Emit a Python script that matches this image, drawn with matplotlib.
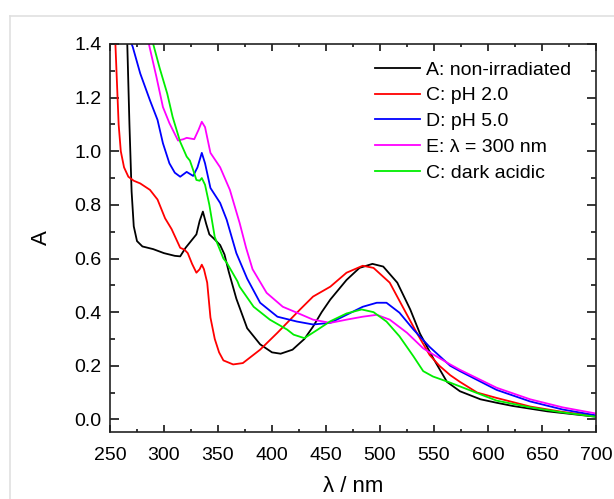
import matplotlib
matplotlib.use("Agg")
import matplotlib.pyplot as plt
from matplotlib.lines import Line2D
from matplotlib.ticker import MultipleLocator, FormatStrFormatter

plt.rcParams['font.family'] = ['Liberation Sans', 'DejaVu Sans']

# A: non-irradiated
wl_a = [262, 266, 268, 270, 272, 275, 280, 290, 300, 310, 315, 320, 326, 330, 333, 336,
        339, 342, 346, 352, 356, 360, 367, 377, 389, 400, 408, 419, 430, 438, 446, 454,
        469, 481, 493, 503, 516, 528, 537, 549, 562, 574, 593, 608, 623, 655, 700]
abs_a = [1.5, 1.4, 1.1, 0.85, 0.72, 0.665, 0.645, 0.635, 0.62, 0.61, 0.608, 0.64, 0.67, 0.69, 0.74, 0.775,
         0.73, 0.69, 0.675, 0.65, 0.615, 0.55, 0.45, 0.34, 0.28, 0.25, 0.245, 0.26, 0.3, 0.346, 0.4, 0.447,
         0.52, 0.565, 0.58, 0.57, 0.51, 0.41, 0.32, 0.23, 0.14, 0.105, 0.075, 0.062, 0.05, 0.03, 0.01]

# C: pH 2.0
wl_c = [254, 256, 258, 260, 263, 267, 272, 278, 287, 294, 301, 307, 315, 319, 322, 326,
        330, 333, 335, 337, 340, 343, 347, 351, 355, 364, 373, 389, 405, 426, 438, 454,
        469, 484, 494, 509, 521, 534, 546, 555, 565, 574, 590, 608, 639, 669, 700]
abs_c = [1.5, 1.3, 1.1, 1.0, 0.94, 0.905, 0.89, 0.88, 0.856, 0.82, 0.75, 0.71, 0.64, 0.633, 0.62, 0.58,
         0.547, 0.56, 0.577, 0.56, 0.51, 0.38, 0.3, 0.25, 0.22, 0.205, 0.21, 0.26, 0.323, 0.41, 0.458, 0.495,
         0.547, 0.573, 0.565, 0.51, 0.42, 0.323, 0.24, 0.2, 0.165, 0.14, 0.1, 0.08, 0.048, 0.028, 0.012]

# D: pH 5.0
wl_d = [265, 271, 278, 287, 294, 299, 305, 310, 315, 321, 327, 331, 335, 338, 343, 352,
        358, 367, 377, 389, 405, 423, 438, 454, 469, 484, 497, 506, 518, 531, 546, 565,
        574, 608, 639, 669, 700]
abs_d = [1.45, 1.39, 1.29, 1.19, 1.117, 1.03, 0.955, 0.92, 0.905, 0.923, 0.908, 0.94, 0.994, 0.955, 0.863, 0.807,
         0.745, 0.62, 0.525, 0.435, 0.383, 0.365, 0.354, 0.36, 0.39, 0.42, 0.435, 0.435, 0.398, 0.335, 0.27, 0.2,
         0.18, 0.11, 0.067, 0.037, 0.015]

# E: lambda = 300 nm
wl_e = [284, 286, 293, 299, 305, 313, 318, 321, 328, 332, 335, 338, 343, 352, 361, 370,
        376, 382, 395, 410, 423, 438, 454, 469, 484, 497, 509, 525, 540, 546, 565, 574,
        608, 639, 669, 700]
abs_e = [1.45, 1.4, 1.277, 1.165, 1.105, 1.04, 1.045, 1.05, 1.045, 1.08, 1.11, 1.09, 0.994, 0.94, 0.856, 0.733,
         0.64, 0.56, 0.472, 0.42, 0.398, 0.372, 0.36, 0.372, 0.383, 0.39, 0.372, 0.323, 0.265, 0.25, 0.205, 0.185,
         0.118, 0.075, 0.045, 0.022]

# C: dark acidic
wl_g = [289, 290, 296, 303, 308, 315, 321, 324, 327, 330, 333, 335, 338, 342, 347, 355,
        358, 368, 370, 383, 398, 414, 420, 430, 442, 454, 469, 483, 494, 506, 518, 531,
        540, 549, 556, 565, 574, 608, 639, 669, 700]
abs_g = [1.45, 1.4, 1.31, 1.215, 1.128, 1.035, 0.98, 0.965, 0.93, 0.893, 0.89, 0.9, 0.875, 0.8, 0.68, 0.6,
         0.585, 0.515, 0.495, 0.42, 0.372, 0.335, 0.316, 0.303, 0.334, 0.366, 0.395, 0.41, 0.4, 0.365, 0.31, 0.235,
         0.18, 0.16, 0.15, 0.137, 0.123, 0.07, 0.045, 0.026, 0.01]

series = [
    (wl_a, abs_a, 'A: non-irradiated', 'black'),
    (wl_c, abs_c, 'C: pH 2.0', '#ff0000'),
    (wl_d, abs_d, 'D: pH 5.0', '#0000ff'),
    (wl_e, abs_e, 'E: λ = 300 nm', '#ff00ff'),
    (wl_g, abs_g, 'C: dark acidic', '#00ee00'),
]

fig = plt.figure(figsize=(6.14, 4.99), dpi=100)
ax = fig.add_axes([110/614, 1 - 432/499, 486/614, 388/499])

for x, y, name, col in series:
    ax.plot(x, y, color=col, lw=1.3, label=name)

ax.set_xlim(250, 700)
ax.set_ylim(-0.047, 1.4)
ax.xaxis.set_major_locator(MultipleLocator(50))
ax.xaxis.set_minor_locator(MultipleLocator(25))
ax.yaxis.set_major_locator(MultipleLocator(0.2))
ax.yaxis.set_minor_locator(MultipleLocator(0.1))
ax.yaxis.set_major_formatter(FormatStrFormatter('%.1f'))
ax.tick_params(which='both', direction='in', top=True, right=True, labelsize=14, width=1.1)
ax.tick_params(axis='x', which='major', length=5, pad=10.5)
ax.tick_params(axis='x', which='minor', length=2.4)
ax.tick_params(axis='y', which='major', length=6.5, pad=6)
ax.tick_params(axis='y', which='minor', length=3.6)
for sp in ax.spines.values():
    sp.set_linewidth(1.2)
    sp.set_color('#222222')

ax.set_xlabel('λ / nm', fontsize=16, labelpad=9)
ax.set_ylabel('A', fontsize=16, labelpad=16)

leg = ax.legend(loc='upper left', bbox_to_anchor=(375/614, 1 - 61/499),
                bbox_transform=fig.transFigure, frameon=False, fontsize=14,
                handlelength=2.3, handletextpad=0.3, labelspacing=0.42, borderpad=0,
                borderaxespad=0)

# light gray frame around the figure area
fig.add_artist(Line2D([10/614, 10/614], [0, 1 - 16/499], transform=fig.transFigure,
                      color='#e0e0e0', lw=1.2))
fig.add_artist(Line2D([10/614, 1], [1 - 16/499, 1 - 16/499], transform=fig.transFigure,
                      color='#e0e0e0', lw=1.2))

fig.savefig('out.png', dpi=100)
